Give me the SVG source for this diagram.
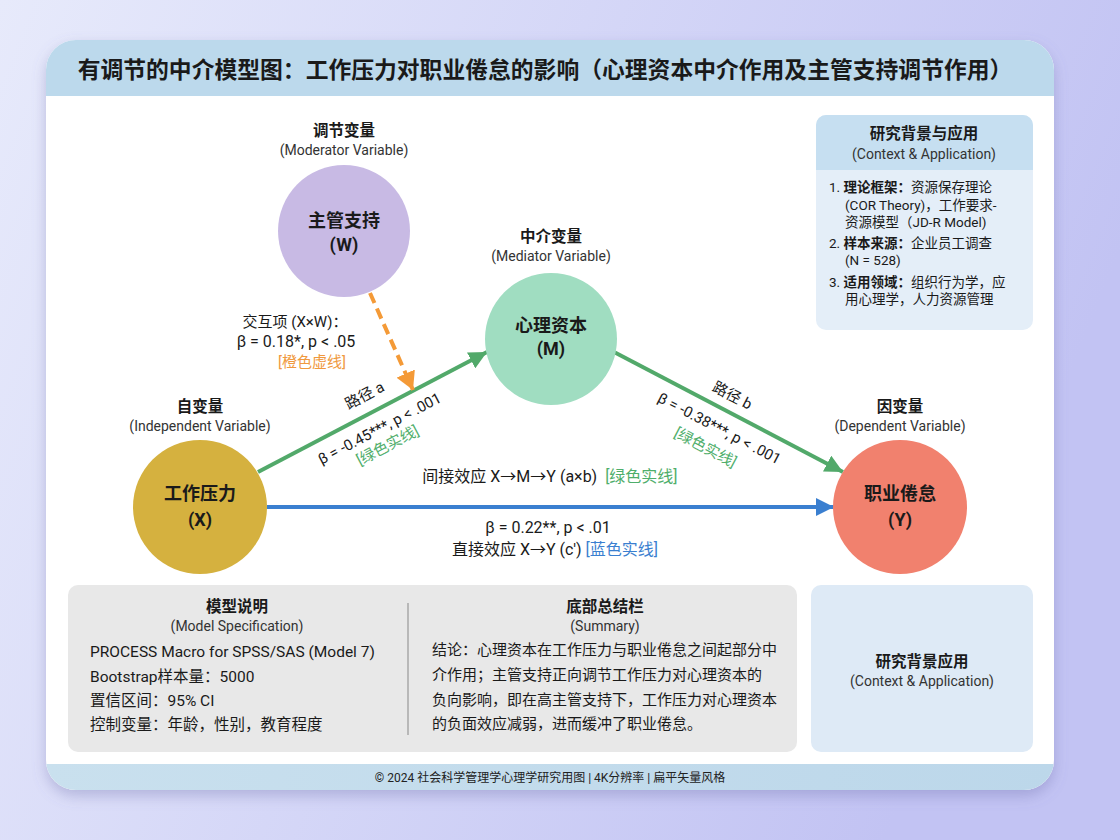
<svg xmlns="http://www.w3.org/2000/svg" width="1120" height="840" viewBox="0 0 1120 840">
<defs>
<linearGradient id="bg" x1="0" y1="0" x2="1" y2="0.3">
<stop offset="0" stop-color="#e7eafb"/>
<stop offset="1" stop-color="#c2c3f3"/>
</linearGradient>
<linearGradient id="foot" x1="0" y1="0" x2="1" y2="0">
<stop offset="0" stop-color="#c9e0ee"/>
<stop offset="1" stop-color="#bcd7ea"/>
</linearGradient>
<clipPath id="cardClip"><rect x="46" y="40" width="1008" height="750" rx="30"/></clipPath>
<filter id="sh" x="-5%" y="-5%" width="110%" height="112%">
<feDropShadow dx="0" dy="6" stdDeviation="7" flood-color="#6a6aa8" flood-opacity="0.35"/>
</filter>
<marker id="mGreen" markerUnits="userSpaceOnUse" markerWidth="20" markerHeight="18" refX="18" refY="9" orient="auto"><path d="M0,0 L18,9 L0,18 Z" fill="#52a96a"/></marker>
<marker id="mBlue" markerUnits="userSpaceOnUse" markerWidth="20" markerHeight="18" refX="18" refY="9" orient="auto"><path d="M0,0 L18,9 L0,18 Z" fill="#3a7fd0"/></marker>
<marker id="mOrange" markerUnits="userSpaceOnUse" markerWidth="20" markerHeight="20" refX="18" refY="10" orient="auto"><path d="M0,0 L18,10 L0,20 Z" fill="#f49a37"/></marker>
<style>
text{font-family:Roboto,"Noto Sans CJK SC",sans-serif;fill:#1a1a1a}
.t{font-size:22.8px;font-weight:bold;font-family:"Noto Sans CJK SC",sans-serif}
.vh{font-size:15.5px;font-weight:bold;text-anchor:middle}
.vs{font-size:14px;text-anchor:middle;fill:#333}
.nn{font-size:18px;font-weight:bold;text-anchor:middle}
.lb{font-size:15px;text-anchor:middle}
.lb2{font-size:16px;text-anchor:middle}
.g{fill:#4fae6b}
.b{fill:#3a7fd0}
.o{fill:#f0993e}
.box{font-size:13.5px}
.bh{font-size:15.5px;font-weight:bold;text-anchor:middle}
.bs{font-size:14px;text-anchor:middle;fill:#333}
.bt{font-size:15.5px}
.br{font-size:15px}
.ft{font-size:12px;text-anchor:middle;fill:#222}
</style>
</defs>
<rect width="1120" height="840" fill="url(#bg)"/>
<rect x="46" y="40" width="1008" height="750" rx="30" fill="#ffffff" filter="url(#sh)"/>
<g clip-path="url(#cardClip)">
<rect x="46" y="40" width="1008" height="56" fill="#bcd9ec"/>
<rect x="46" y="764" width="1008" height="26" fill="url(#foot)"/>
</g>
<text class="t" x="545" y="78" text-anchor="middle">有调节的中介模型图：工作压力对职业倦怠的影响（心理资本中介作用及主管支持调节作用）</text>

<g id="connectors">
<line x1="267" y1="507" x2="834" y2="507" stroke="#3a7fd0" stroke-width="4" marker-end="url(#mBlue)"/>
<line x1="258" y1="472" x2="487" y2="352" stroke="#52a96a" stroke-width="4" marker-end="url(#mGreen)"/>
<line x1="614" y1="352" x2="843" y2="472" stroke="#52a96a" stroke-width="4" marker-end="url(#mGreen)"/>
<line x1="370" y1="293" x2="413" y2="390" stroke="#f49a37" stroke-width="4" stroke-dasharray="11 6" marker-end="url(#mOrange)"/>
<g id="label-a">
<text class="lb" transform="translate(367,400) rotate(-27.7)" x="0" y="0">路径 a</text>
<text class="lb" transform="translate(382,433) rotate(-27.7)" x="0" y="0">β = -0.45***, p &lt; .001</text>
<text class="lb g" transform="translate(390,450) rotate(-27.7)" x="0" y="0">[绿色实线]</text>
</g>
<g id="label-b">
<text class="lb" transform="translate(730,400) rotate(27.7)" x="0" y="0">路径 b</text>
<text class="lb" transform="translate(717,433) rotate(27.7)" x="0" y="0">β = -0.38***, p &lt; .001</text>
<text class="lb g" transform="translate(703,452) rotate(27.7)" x="0" y="0">[绿色实线]</text>
</g>
<g id="label-w">
<text class="lb" x="295" y="327">交互项 (X×W)：</text>
<text class="lb2" x="296" y="347">β = 0.18*, p &lt; .05</text>
<text class="lb o" x="312" y="367">[橙色虚线]</text>
</g>
<g id="label-ind">
<text class="lb2" x="550" y="482" xml:space="preserve">间接效应 X→M→Y (a×b)  <tspan class="g">[绿色实线]</tspan></text>
</g>
<g id="label-dir">
<text class="lb2" x="548" y="533">β = 0.22**, p &lt; .01</text>
<text class="lb2" x="555" y="555">直接效应 X→Y (c') <tspan class="b">[蓝色实线]</tspan></text>
</g>
</g>

<g id="node-W">
<text class="vh" x="344" y="136">调节变量</text>
<text class="vs" x="344" y="155">(Moderator Variable)</text>
<circle cx="344" cy="231" r="66" fill="#c8bae4"/>
<text class="nn" x="344" y="227">主管支持</text>
<text class="nn" x="344" y="251">(W)</text>
</g>
<g id="node-M">
<text class="vh" x="551" y="242">中介变量</text>
<text class="vs" x="551" y="261">(Mediator Variable)</text>
<circle cx="551" cy="339" r="66" fill="#a0ddc1"/>
<text class="nn" x="551" y="332">心理资本</text>
<text class="nn" x="551" y="355">(M)</text>
</g>
<g id="node-X">
<text class="vh" x="200" y="412">自变量</text>
<text class="vs" x="200" y="431">(Independent Variable)</text>
<circle cx="200" cy="507" r="67" fill="#d5b13f"/>
<text class="nn" x="200" y="500">工作压力</text>
<text class="nn" x="200" y="526">(X)</text>
</g>
<g id="node-Y">
<text class="vh" x="900" y="412">因变量</text>
<text class="vs" x="900" y="431">(Dependent Variable)</text>
<circle cx="900" cy="507" r="67" fill="#f1816e"/>
<text class="nn" x="900" y="500">职业倦怠</text>
<text class="nn" x="900" y="526">(Y)</text>
</g>

<g id="context-box">
<rect x="816" y="115" width="217" height="215" rx="10" fill="#e4eef8"/>
<path d="M816,170 V125 A10,10 0 0 1 826,115 H1023 A10,10 0 0 1 1033,125 V170 Z" fill="#c6dff1"/>
<text class="bh" x="924" y="139">研究背景与应用</text>
<text class="bs" x="924" y="159">(Context &amp; Application)</text>
<text class="box" x="829" y="192">1. <tspan font-weight="bold">理论框架：</tspan>资源保存理论</text>
<text class="box" x="845" y="210">(COR Theory)，工作要求-</text>
<text class="box" x="845" y="227">资源模型（JD-R Model)</text>
<text class="box" x="829" y="248">2. <tspan font-weight="bold">样本来源：</tspan>企业员工调查</text>
<text class="box" x="845" y="265">(N = 528)</text>
<text class="box" x="829" y="287">3. <tspan font-weight="bold">适用领域：</tspan>组织行为学，应</text>
<text class="box" x="845" y="304">用心理学，人力资源管理</text>
</g>

<g id="model-box">
<rect x="68" y="585" width="729" height="167" rx="10" fill="#e8e8e8"/>
<line x1="408" y1="603" x2="408" y2="735" stroke="#b8b8b8" stroke-width="2"/>
<text class="bh" x="237" y="612">模型说明</text>
<text class="bs" x="237" y="631">(Model Specification)</text>
<text class="bt" x="90" y="657">PROCESS Macro for SPSS/SAS (Model 7)</text>
<text class="bt" x="90" y="682">Bootstrap样本量：5000</text>
<text class="bt" x="90" y="706">置信区间：95% CI</text>
<text class="bt" x="90" y="730">控制变量：年龄，性别，教育程度</text>
<text class="bh" x="605" y="612">底部总结栏</text>
<text class="bs" x="605" y="631">(Summary)</text>
<text class="br" x="432" y="655">结论：心理资本在工作压力与职业倦怠之间起部分中</text>
<text class="br" x="432" y="680">介作用；主管支持正向调节工作压力对心理资本的</text>
<text class="br" x="432" y="705">负向影响，即在高主管支持下，工作压力对心理资本</text>
<text class="br" x="432" y="729">的负面效应减弱，进而缓冲了职业倦怠。</text>
</g>

<g id="summary-box">
<rect x="811" y="585" width="222" height="167" rx="10" fill="#deeaf6"/>
<text class="bh" x="922" y="667">研究背景应用</text>
<text class="bs" x="922" y="686">(Context &amp; Application)</text>
</g>

<text class="ft" x="550" y="782">© 2024 社会科学管理学心理学研究用图 | 4K分辨率 | 扁平矢量风格</text>
</svg>
